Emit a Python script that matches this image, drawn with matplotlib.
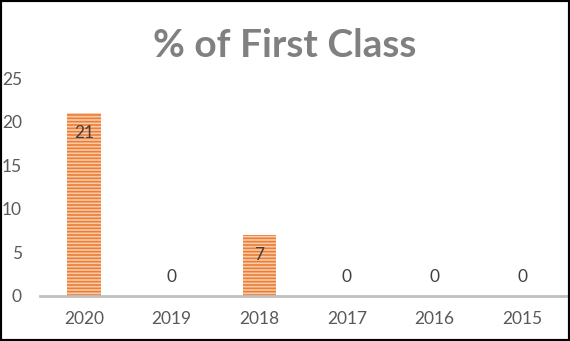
import matplotlib.pyplot as plt
from matplotlib.patches import Rectangle

years = ['2020', '2019', '2018', '2017', '2016', '2015']
pct_first = [21, 0, 7, 0, 0, 0]

plt.rcParams['font.family'] = ['Lato', 'DejaVu Sans']
plt.rcParams['hatch.linewidth'] = 1.2

fig = plt.figure(figsize=(5.7, 3.41), dpi=100)
ax = fig.add_axes([0.0702, 0.132, 0.923, 0.639])

x = range(len(years))
bars = ax.bar(x, pct_first, width=0.38, facecolor='#F8CBAD',
              edgecolor='#ED7D31', hatch='-----', linewidth=0)

for xi, v in zip(x, pct_first):
    if v > 0:
        ax.annotate(str(v), (xi, v), xytext=(0, -14.5), textcoords='offset points',
                    ha='center', va='center', fontsize=12.5, color='#404040')
    else:
        ax.annotate(str(v), (xi, v), xytext=(0, 13.5), textcoords='offset points',
                    ha='center', va='center', fontsize=12.5, color='#404040')

ax.set_xlim(-0.5, len(years) - 0.5)
ax.set_ylim(0, 25)
ax.set_yticks([0, 5, 10, 15, 20, 25])
ax.set_xticks(list(x))
ax.set_xticklabels(years)
ax.tick_params(axis='both', length=0, labelsize=12.5, labelcolor='#595959')
ax.tick_params(axis='y', pad=13)
ax.tick_params(axis='x', pad=11)

for side in ['top', 'right', 'left']:
    ax.spines[side].set_visible(False)
ax.spines['bottom'].set_color('#BFBFBF')
ax.spines['bottom'].set_linewidth(2)

fig.text(0.5, 0.868, '% of First Class', ha='center', va='center',
         fontsize=28, fontweight='bold', color='#808080')

fig.patches.append(Rectangle((0, 0), 1, 1, transform=fig.transFigure,
                             fill=False, edgecolor='black', linewidth=3))

fig.savefig('out.png', dpi=100)
